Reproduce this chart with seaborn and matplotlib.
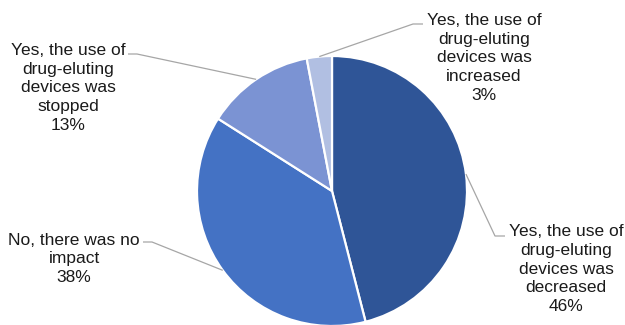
import numpy as np
import matplotlib
matplotlib.use("Agg")
import matplotlib.pyplot as plt
import seaborn as sns

categories = [
    "Yes, the use of\ndrug-eluting\ndevices was\ndecreased",
    "No, there was no\nimpact",
    "Yes, the use of\ndrug-eluting\ndevices was\nstopped",
    "Yes, the use of\ndrug-eluting\ndevices was\nincreased",
]
values = [46, 38, 13, 3]
pct_labels = ["46%", "38%", "13%", "3%"]
colors = ["#2F5597", "#4472C4", "#7B93D3", "#B1BFE2"]

# layout (pixel units, y measured from top)
W, H = 625, 325
center_px = (332, 191)
radius_px = 135
label_pos = [(566, 269), (74, 259), (68, 88), (484, 58)]
elbow_pts = [((495, 236), (505, 236)), ((152, 242), (143, 242)),
             ((137, 54), (128, 54)), ((413, 24), (423, 24))]

sns.set_theme(style="white")
plt.rcParams['font.family'] = ['Liberation Sans', 'DejaVu Sans']

fig = plt.figure(figsize=(W / 100, H / 100), dpi=100)
ax = fig.add_axes([0, 0, 1, 1])

cx, cy = center_px[0], H - center_px[1]
wedges, _ = ax.pie(values, colors=colors, startangle=90, counterclock=False,
                   center=(cx, cy), radius=radius_px, frame=True,
                   wedgeprops=dict(edgecolor="white", linewidth=1.6))
ax.set_xlim(0, W)
ax.set_ylim(0, H)
ax.set_aspect('equal')
ax.axis('off')

for w, cat, pct, (lx, ly), (e1, e2) in zip(wedges, categories, pct_labels, label_pos, elbow_pts):
    mid = np.deg2rad((w.theta1 + w.theta2) / 2)
    sx = cx + radius_px * np.cos(mid)
    sy = cy + radius_px * np.sin(mid)
    xs = [sx, e1[0], e2[0]]
    ys = [sy, H - e1[1], H - e2[1]]
    ax.plot(xs, ys, color="#A6A6A6", lw=0.9, solid_capstyle="butt", zorder=1)
    ax.text(lx, H - ly, cat + "\n" + pct, ha="center", va="center",
            fontsize=12.5, color="#1a1a1a", linespacing=1.3)

fig.savefig("out.png", dpi=100)
